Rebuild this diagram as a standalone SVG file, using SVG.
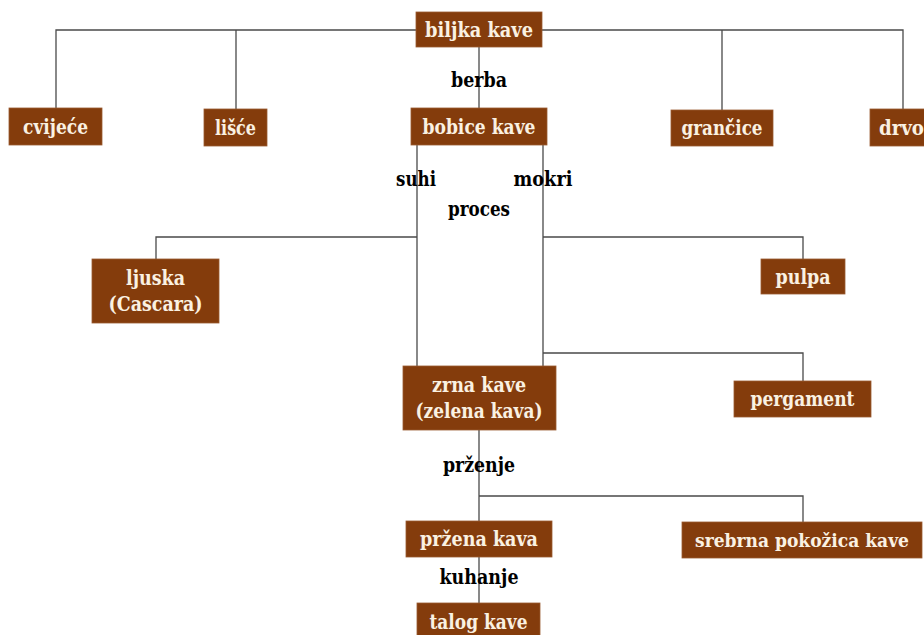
<svg xmlns="http://www.w3.org/2000/svg" width="924" height="635" viewBox="0 0 924 635">
<style>
.box{fill:#843C0C;stroke:#9a5a30;stroke-width:0.8}
text{font-family:'DejaVu Serif Condensed','DejaVu Serif',serif;font-weight:bold;font-size:21px;text-anchor:middle}
.t{fill:#FAF1E2}
.lbl{fill:#000}
.c{fill:none;stroke:#4a4a4a;stroke-width:1.3}
</style>
<rect width="924" height="635" fill="#fff"/>
<g id="connectors">
<path class="c" d="M56,108 V30 H416 M542,30 H903 V109 M236,30 V109 M722,30 V110"/>
<path class="c" d="M479,47 V108"/>
<path class="c" d="M417,145 V366 M417,237 H156 V259"/>
<path class="c" d="M543,145 V366 M543,237 H803 V259 M543,353 H803 V381"/>
<path class="c" d="M479,430 V521 M479,496 H803 V522"/>
<path class="c" d="M479,557 V603"/>
</g>
<g id="labels">
<text class="lbl" x="479" y="87" textLength="56" lengthAdjust="spacingAndGlyphs">berba</text>
<text class="lbl" x="416" y="186" textLength="40" lengthAdjust="spacingAndGlyphs">suhi</text>
<text class="lbl" x="543" y="186" textLength="59" lengthAdjust="spacingAndGlyphs">mokri</text>
<text class="lbl" x="479" y="216" textLength="62" lengthAdjust="spacingAndGlyphs">proces</text>
<text class="lbl" x="479" y="472" textLength="72" lengthAdjust="spacingAndGlyphs">prženje</text>
<text class="lbl" x="479" y="584" textLength="79" lengthAdjust="spacingAndGlyphs">kuhanje</text>
</g>
<g id="biljka"><rect class="box" x="416" y="12" width="126" height="35"/><text class="t" x="479" y="37" textLength="108" lengthAdjust="spacingAndGlyphs">biljka kave</text></g>
<g id="cvijece"><rect class="box" x="9" y="108" width="93" height="37"/><text class="t" x="55.5" y="134" textLength="65" lengthAdjust="spacingAndGlyphs">cvijeće</text></g>
<g id="lisce"><rect class="box" x="204" y="109" width="63" height="37"/><text class="t" x="235.5" y="135" textLength="41" lengthAdjust="spacingAndGlyphs">lišće</text></g>
<g id="bobice"><rect class="box" x="411" y="108" width="136" height="37"/><text class="t" x="479" y="134" textLength="113" lengthAdjust="spacingAndGlyphs">bobice kave</text></g>
<g id="grancice"><rect class="box" x="671" y="110" width="102" height="36"/><text class="t" x="722" y="135" textLength="81" lengthAdjust="spacingAndGlyphs">grančice</text></g>
<g id="drvo"><rect class="box" x="870" y="109" width="70" height="37"/><text class="t" x="879" y="135" style="text-anchor:start" textLength="45" lengthAdjust="spacingAndGlyphs">drvo</text></g>
<g id="ljuska"><rect class="box" x="92" y="259" width="127" height="64"/><text class="t" x="155.5" y="285" textLength="59" lengthAdjust="spacingAndGlyphs">ljuska</text><text class="t" x="155.5" y="311" textLength="94" lengthAdjust="spacingAndGlyphs">(Cascara)</text></g>
<g id="pulpa"><rect class="box" x="761" y="259" width="84" height="35"/><text class="t" x="803" y="284" textLength="55" lengthAdjust="spacingAndGlyphs">pulpa</text></g>
<g id="zrna"><rect class="box" x="403" y="366" width="153" height="64"/><text class="t" x="479" y="392" textLength="94" lengthAdjust="spacingAndGlyphs">zrna kave</text><text class="t" x="479" y="418" textLength="127" lengthAdjust="spacingAndGlyphs">(zelena kava)</text></g>
<g id="pergament"><rect class="box" x="734" y="381" width="137" height="36"/><text class="t" x="802.5" y="406" textLength="104" lengthAdjust="spacingAndGlyphs">pergament</text></g>
<g id="przena"><rect class="box" x="406" y="521" width="146" height="36"/><text class="t" x="479" y="546" textLength="118" lengthAdjust="spacingAndGlyphs">pržena kava</text></g>
<g id="srebrna"><rect class="box" x="682" y="522" width="240" height="36"/><text class="t" x="802" y="547" style="font-size:19px" textLength="214" lengthAdjust="spacingAndGlyphs">srebrna pokožica kave</text></g>
<g id="talog"><rect class="box" x="417" y="603" width="123" height="40"/><text class="t" x="478.5" y="629" textLength="98" lengthAdjust="spacingAndGlyphs">talog kave</text></g>
</svg>
